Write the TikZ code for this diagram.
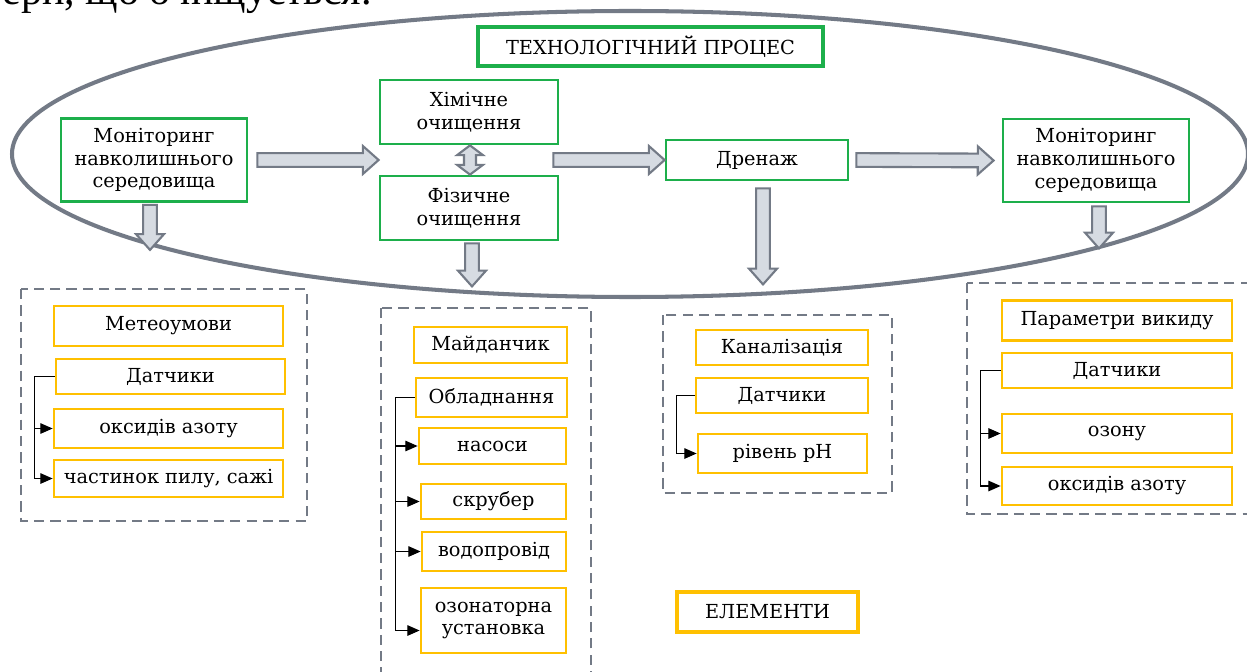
\documentclass[tikz,border=0pt]{standalone}
\usepackage{fontspec}
\setmainfont{DejaVu Serif}
\newfontfamily\pagefont{Liberation Serif}
\usetikzlibrary{calc,arrows.meta}
\definecolor{boxgreen}{HTML}{1DAF4B}
\definecolor{boxyellow}{HTML}{FFC000}
\definecolor{ringgray}{HTML}{737A86}
\definecolor{arrowfill}{HTML}{D6DBE2}
\tikzset{
	gbox/.style={draw=boxgreen, line width=1.6pt, align=center, inner sep=1pt, font=\fontsize{11}{13}\selectfont},
	ybox/.style={draw=boxyellow, line width=1.6pt, align=center, inner sep=1pt, font=\fontsize{11}{13}\selectfont},
	group/.style={draw=ringgray, line width=1.4pt, dash pattern=on 5.8pt off 3.5pt},
	tick/.style={line width=0.7pt, -{Triangle[length=7pt,width=6pt]}},
	fat/.style={draw=ringgray, fill=arrowfill, line width=1.2pt, line join=miter,
		to path={let \p1=($(\tikztotarget)-(\tikztostart)$), \n1={atan2(\y1,\x1)}, \n2={veclen(\x1,\y1)} in
			([shift={(\tikztostart)},rotate=\n1]0pt,3.9pt) -- ([shift={(\tikztostart)},rotate=\n1]\n2-9pt,3.9pt)
			-- ([shift={(\tikztostart)},rotate=\n1]\n2-9pt,8pt) -- ([shift={(\tikztostart)},rotate=\n1]\n2,0pt)
			-- ([shift={(\tikztostart)},rotate=\n1]\n2-9pt,-8pt) -- ([shift={(\tikztostart)},rotate=\n1]\n2-9pt,-3.9pt)
			-- ([shift={(\tikztostart)},rotate=\n1]0pt,-3.9pt) -- cycle}},
	dfat/.style={draw=ringgray, fill=arrowfill, line width=1.2pt, line join=miter,
		to path={let \p1=($(\tikztotarget)-(\tikztostart)$), \n1={atan2(\y1,\x1)}, \n2={veclen(\x1,\y1)} in
			([shift={(\tikztostart)},rotate=\n1]0pt,0pt) -- ([shift={(\tikztostart)},rotate=\n1]5.5pt,7.3pt)
			-- ([shift={(\tikztostart)},rotate=\n1]5.5pt,3.4pt) -- ([shift={(\tikztostart)},rotate=\n1]\n2-5.5pt,3.4pt)
			-- ([shift={(\tikztostart)},rotate=\n1]\n2-5.5pt,7.3pt) -- ([shift={(\tikztostart)},rotate=\n1]\n2,0pt)
			-- ([shift={(\tikztostart)},rotate=\n1]\n2-5.5pt,-7.3pt) -- ([shift={(\tikztostart)},rotate=\n1]\n2-5.5pt,-3.4pt)
			-- ([shift={(\tikztostart)},rotate=\n1]5.5pt,-3.4pt) -- ([shift={(\tikztostart)},rotate=\n1]5.5pt,-7.3pt) -- cycle}},
}

\begin{document}
\begin{tikzpicture}[x=0.02cm,y=-0.02cm]
	\useasboundingbox[fill=white] (0,0) rectangle (1247,672);
	\node[anchor=base east, inner sep=0pt, font=\pagefont\fontsize{24}{28}\selectfont] (pageline) at (372,5) {ери, що очищується.};
	\draw[ringgray, line width=2.3pt] (630,154) ellipse [x radius=618, y radius=143];
	% process
	\node[gbox, line width=2.6pt, minimum width=6.9cm, minimum height=0.78cm] (proc) at (650.5,46.5) {ТЕХНОЛОГІЧНИЙ ПРОЦЕС};
	\node[gbox, minimum width=3.72cm, minimum height=1.66cm] (monL) at (154,160) {Моніторинг\\навколишнього\\середовища};
	\node[gbox, minimum width=3.56cm, minimum height=1.28cm] (chem) at (469,112) {Хімічне\\очищення};
	\node[gbox, minimum width=3.56cm, minimum height=1.28cm] (phys) at (469,208) {Фізичне\\очищення};
	\node[gbox, minimum width=3.64cm, minimum height=0.8cm] (drain) at (757,160) {Дренаж};
	\node[gbox, minimum width=3.72cm, minimum height=1.66cm] (monR) at (1096,160.5) {Моніторинг\\навколишнього\\середовища};
	\coordinate (clean) at ($(chem.south west)!0.5!(phys.north west)$);
	\coordinate (cleanout) at ($(chem.south east)!0.5!(phys.north east)+(-6,0)$);
	\draw[fat] ($(monL.east)+(9,0)$) to (clean);
	\draw[fat] (cleanout) to (drain.west);
	\draw[fat] ($(drain.east)+(7,0)$) to ($(monR.west)+(-8,0)$);
	\draw[dfat] ($(chem.south)+(1,0)$) to ($(phys.north)+(1,0)$);
	\coordinate (downL) at ($(monL.south)+(-4,47)$);
	\coordinate (downP) at ($(phys.south)+(3,45)$);
	\coordinate (downD) at ($(drain.south)+(6,103)$);
	\coordinate (downR) at ($(monR.south)+(3,45)$);
	\draw[fat] ($(monL.south)+(-4,2)$) to (downL);
	\draw[fat] ($(phys.south)+(3,2)$) to (downP);
	\draw[fat] ($(drain.south)+(6,7)$) to (downD);
	\draw[fat] ($(monR.south)+(3,3)$) to (downR);
	% elements
	\draw[group] (21,289) rectangle (307,521);
	\draw[group] (381,308) rectangle (591,700);
	\draw[group] (663,315) rectangle (892,493);
	\draw[group] (967,283) rectangle (1270,514);
	\node[ybox, minimum width=4.58cm, minimum height=0.8cm] (meteo) at (168.5,326) {Метеоумови};
	\node[ybox, minimum width=4.58cm, minimum height=0.7cm] (sensL) at (170.5,376.5) {Датчики};
	\node[ybox, minimum width=4.58cm, minimum height=0.78cm] (noxL) at (168.5,428.5) {оксидів азоту};
	\node[ybox, minimum width=4.58cm, minimum height=0.74cm] (dust) at (168.5,478.5) {частинок пилу, сажі};
	\draw[tick] (sensL.west) -- ++(-20,0) |- (noxL.west);
	\draw[tick] (sensL.west) -- ++(-20,0) |- (dust.west);
	\node[ybox, minimum width=3.06cm, minimum height=0.72cm] (site) at (490.5,345) {Майданчик};
	\node[ybox, minimum width=3.02cm, minimum height=0.78cm] (equip) at (491.5,397.5) {Обладнання};
	\node[ybox, minimum width=2.94cm, minimum height=0.72cm] (pumps) at (492.5,446) {насоси};
	\node[ybox, minimum width=2.9cm, minimum height=0.7cm] (scrub) at (493.5,501.5) {скрубер};
	\node[ybox, minimum width=2.88cm, minimum height=0.78cm] (pipe) at (494,551.5) {водопровід};
	\node[ybox, minimum width=2.9cm, minimum height=1.3cm] (ozonizer) at (493.5,620.5) {озонаторна\\установка};
	\draw[tick] (equip.west) -- ++(-19,0) |- (pumps.west);
	\draw[tick] (equip.west) -- ++(-19,0) |- (scrub.west);
	\draw[tick] (equip.west) -- ++(-19,0) |- (pipe.west);
	\draw[tick] (equip.west) -- ++(-19,0) |- ($(ozonizer.west)+(0,10)$);
	\node[ybox, minimum width=3.44cm, minimum height=0.7cm] (sewer) at (782,347.5) {Каналізація};
	\node[ybox, minimum width=3.44cm, minimum height=0.7cm] (sensD) at (782,395.5) {Датчики};
	\node[ybox, minimum width=3.38cm, minimum height=0.78cm] (ph) at (782.5,453.5) {рівень pH};
	\draw[tick] (sensD.west) -- ++(-18,0) |- (ph.west);
	\node[ybox, minimum width=4.6cm, minimum height=0.8cm] (emis) at (1117,320.5) {Параметри викиду};
	\node[ybox, minimum width=4.6cm, minimum height=0.7cm] (sensR) at (1117,370.5) {Датчики};
	\node[ybox, minimum width=4.6cm, minimum height=0.78cm] (ozone) at (1117,433.5) {озону};
	\node[ybox, minimum width=4.6cm, minimum height=0.76cm] (noxR) at (1117,486) {оксидів азоту};
	\draw[tick] (sensR.west) -- ++(-20,0) |- (ozone.west);
	\draw[tick] (sensR.west) -- ++(-20,0) |- (noxR.west);
	\node[ybox, line width=2.6pt, minimum width=3.62cm, minimum height=0.8cm] (elem) at (767.5,612) {ЕЛЕМЕНТИ};
\end{tikzpicture}
\end{document}
